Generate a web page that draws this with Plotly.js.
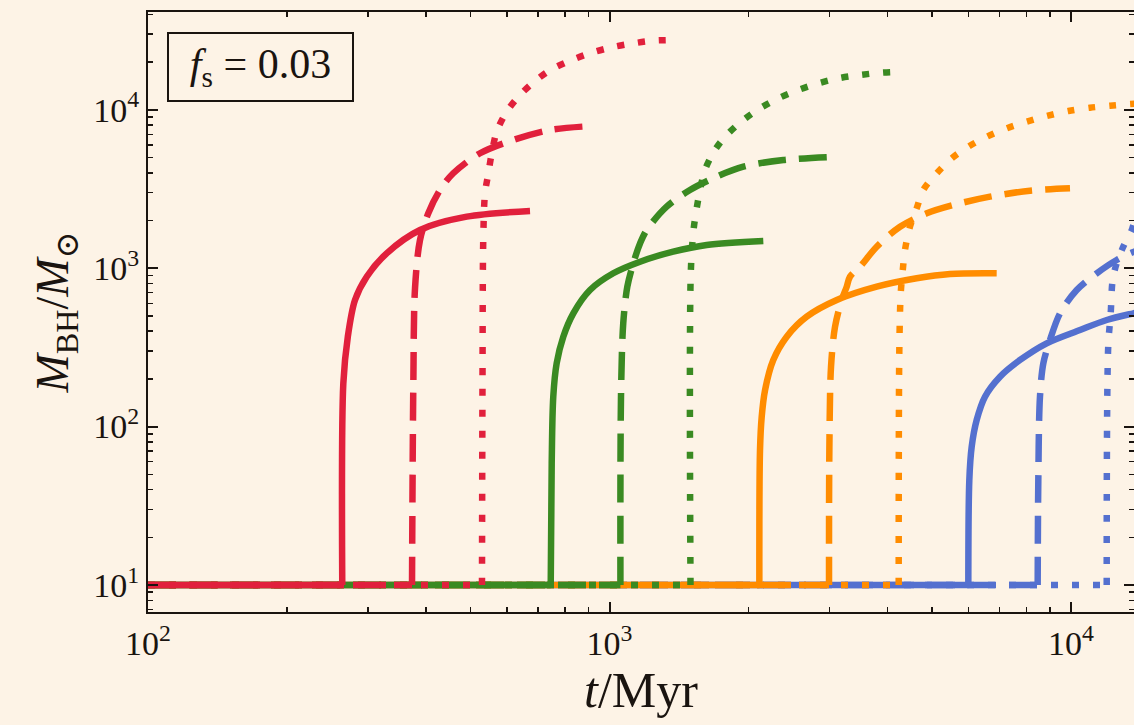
<!DOCTYPE html>
<html>
<head>
<meta charset="utf-8">
<script src="https://cdn.plot.ly/plotly-3.0.1.min.js"></script>
<style>
  html, body { margin: 0; padding: 0; background: #fdf3e6; }
  #chart { width: 1134px; height: 725px; }
</style>
</head>
<body>
<div id="chart"></div>
<script>
// ---- Data (t in Myr, M_BH in solar masses) ----
const tRedSolid   = [100, 263.6, 265.0, 271.0, 280.9, 297.8, 329.0, 388.5, 490.6, 672.6];
const mRedSolid   = [10, 10, 187.7, 369.5, 629.8, 883.7, 1242, 1743, 2115, 2297];
const tRedDashed  = [100, 373.3, 375.8, 379.0, 388.5, 404.9, 429.3, 458.6, 524.1, 618.6, 743.2, 917.8];
const mRedDashed  = [10, 10, 187.7, 749.9, 1507, 2221, 3117, 3973, 5314, 6447, 7457, 7901];
const tRedDotted  = [100, 529.3, 530.6, 532.8, 537.4, 546.4, 555.6, 569.7, 598.7, 636.7, 689.7, 749.5, 828.2, 915.0, 1011, 1126, 1244, 1407];
const mRedDotted  = [10, 10, 178.6, 1581, 2972, 3973, 5314, 7276, 9727, 12220, 15200, 18020, 20630, 22940, 24810, 26290, 27310, 27590];

const tGreenSolid  = [100, 745.8, 749.5, 755.4, 768.3, 794.1, 834.8, 907.4, 1019, 1165, 1374, 1624, 2154];
const mGreenSolid  = [10, 10, 58.7, 154.5, 251, 369.5, 519.2, 728.5, 928.6, 1099, 1271, 1401, 1485];
const tGreenDashed = [100, 1056, 1059, 1071, 1093, 1126, 1165, 1204, 1330, 1494, 1707, 1950, 2381, 3108];
const mGreenDashed = [10, 10, 154.5, 448.8, 764.1, 1074, 1436, 1743, 2445, 3117, 3782, 4373, 4822, 5056];
const tGreenDotted = [100, 1498, 1500, 1520, 1540, 1571, 1610, 1692, 1795, 1950, 2119, 2322, 2566, 2835, 3132, 3490, 3889, 4331];
const mGreenDotted = [10, 10, 928.6, 1717, 2254, 3117, 4168, 5574, 6934, 8623, 10220, 11820, 13340, 14700, 15810, 16590, 17150, 17400];

const tOrangeSolid  = [100, 2112, 2119, 2137, 2173, 2264, 2421, 2675, 3108, 3793, 4630, 5467, 6902];
const mOrangeSolid  = [10, 10, 71.2, 115.5, 170.2, 263.3, 369.5, 494.1, 629.8, 764.1, 863.4, 919.2, 928.6];
const tOrangeDashed = [100, 2990, 2995, 3020, 3081, 3185, 3266, 3319, 3490, 3793, 4261, 4868, 5559, 6676, 8151, 9950];
const mOrangeDashed = [10, 10, 71.2, 238.9, 427.2, 629.8, 764.1, 883.7, 1022, 1367, 1828, 2221, 2506, 2828, 3086, 3195];
const tOrangeDotted = [100, 4233, 4246, 4276, 4318, 4368, 4478, 4630, 4786, 5117, 5514, 5991, 6567, 7256, 8017, 8857, 9868, 10990, 12150, 13420, 14500];
const mOrangeDotted = [10, 10, 304.4, 694.3, 960, 1303, 1828, 2389, 3117, 3973, 4941, 5848, 6763, 7641, 8413, 9140, 9827, 10310, 10610, 10880, 11000];

const tBlueSolid  = [100, 5991, 6021, 6093, 6247, 6511, 7018, 7756, 8857, 10460, 11950, 13650, 14500];
const mBlueSolid  = [10, 10, 46.0, 74.7, 110.1, 154.5, 206.5, 263.3, 335.7, 407.2, 470.9, 519.2, 540];
const tBlueDashed = [100, 8468, 8495, 8566, 8710, 9005, 9467, 10290, 11370, 12560, 13700, 14500];
const mBlueDashed = [10, 10, 46.0, 154.5, 251, 352.2, 519.2, 728.5, 928.6, 1127, 1271, 1330];
const tBlueDotted = [100, 11950, 12040, 12190, 12310, 12560, 12980, 13540, 13700, 14500];
const mBlueDotted = [10, 10, 319.5, 519.2, 842.4, 1074, 1367, 1743, 1921, 2300];

const xTickVals = [100, 1000, 10000];
const xTickText = ['10<sup>2</sup>', '10<sup>3</sup>', '10<sup>4</sup>'];
const yTickVals = [10, 100, 1000, 10000];
const yTickText = ['10<sup>1</sup>', '10<sup>2</sup>', '10<sup>3</sup>', '10<sup>4</sup>'];
const xMinorVals = [200, 300, 400, 500, 600, 700, 800, 900, 2000, 3000, 4000, 5000, 6000, 7000, 8000, 9000];
const yMinorVals = [7, 8, 9, 20, 30, 40, 50, 60, 70, 80, 90, 200, 300, 400, 500, 600, 700, 800, 900,
                    2000, 3000, 4000, 5000, 6000, 7000, 8000, 9000, 20000, 30000, 40000];

// ---- Styles ----
const COLORS = { red: '#e1203c', green: '#3a8a22', orange: '#ff8c00', blue: '#5470cf' };
const DASHES = { solid: 'solid', dashed: '28px,13px', dotted: '7px,14px' };
const LW = 6.5;

// draw order: blue first, red last (red on top)
const series = [
  ['blue', 'solid', tBlueSolid, mBlueSolid],
  ['blue', 'dashed', tBlueDashed, mBlueDashed],
  ['blue', 'dotted', tBlueDotted, mBlueDotted],
  ['orange', 'solid', tOrangeSolid, mOrangeSolid],
  ['orange', 'dashed', tOrangeDashed, mOrangeDashed],
  ['orange', 'dotted', tOrangeDotted, mOrangeDotted],
  ['green', 'solid', tGreenSolid, mGreenSolid],
  ['green', 'dashed', tGreenDashed, mGreenDashed],
  ['green', 'dotted', tGreenDotted, mGreenDotted],
  ['red', 'solid', tRedSolid, mRedSolid],
  ['red', 'dashed', tRedDashed, mRedDashed],
  ['red', 'dotted', tRedDotted, mRedDotted],
];

// Each series: flat part (linear) + growth part (smoothed)
const flatTraces = series.map(([c, d, x, y]) => ({
  type: 'scatter', mode: 'lines', x: x.slice(0, 2), y: y.slice(0, 2),
  line: { color: COLORS[c], width: LW, dash: DASHES[d], shape: 'linear' },
  hoverinfo: 'skip', showlegend: false
}));
const growTraces = series.map(([c, d, x, y]) => ({
  type: 'scatter', mode: 'lines', x: x.slice(1), y: y.slice(1),
  line: { color: COLORS[c], width: LW, dash: DASHES[d], shape: 'spline', smoothing: 0.9 },
  hoverinfo: 'skip', showlegend: false
}));
const traces = [];
for (let i = 0; i < series.length; i++) { traces.push(flatTraces[i]); traces.push(growTraces[i]); }

const INK = '#1a1410';
const FONT = 'Liberation Serif, DejaVu Serif, serif';
const BG = '#fdf3e6';

const axisCommon = {
  type: 'log', showgrid: false, zeroline: false,
  showline: true, linecolor: INK, linewidth: 2, mirror: 'allticks',
  ticks: 'inside', ticklen: 10, tickwidth: 2, tickcolor: INK,
  tickfont: { family: FONT, size: 34, color: INK }
};

const layout = {
  width: 1134, height: 725,
  margin: { l: 148, r: 0, t: 12, b: 113 },
  paper_bgcolor: BG, plot_bgcolor: BG,
  font: { family: FONT, color: INK },
  xaxis: Object.assign({}, axisCommon, {
    range: [2, 4.1365],
    tickmode: 'array', tickvals: xTickVals, ticktext: xTickText,
    minor: { tickmode: 'array', tickvals: xMinorVals, ticks: 'inside', ticklen: 5, tickwidth: 1.5, tickcolor: INK, showgrid: false },
    title: { text: '<i>t</i>/Myr', font: { family: FONT, size: 50, color: INK }, standoff: 4 }
  }),
  yaxis: Object.assign({}, axisCommon, {
    range: [0.8295, 4.6174],
    tickmode: 'array', tickvals: yTickVals, ticktext: yTickText,
    minor: { tickmode: 'array', tickvals: yMinorVals, ticks: 'inside', ticklen: 5, tickwidth: 1.5, tickcolor: INK, showgrid: false },
    title: { text: '<i>M</i><sub>BH</sub>/<i>M</i><sub>⊙</sub>', font: { family: FONT, size: 46, color: INK }, standoff: 10 }
  }),
  annotations: [{
    xref: 'paper', yref: 'paper', x: 0.0193, y: 0.9667, xanchor: 'left', yanchor: 'top',
    text: '<i>f</i><sub>s</sub>&nbsp;=&nbsp;0.03', showarrow: false,
    font: { family: FONT, size: 42, color: INK },
    bordercolor: INK, borderwidth: 2, borderpad: 0, bgcolor: BG,
    width: 183, height: 66, align: 'center', valign: 'middle'
  }]
};

Plotly.newPlot('chart', traces, layout, { staticPlot: true, displayModeBar: false });
</script>
</body>
</html>
